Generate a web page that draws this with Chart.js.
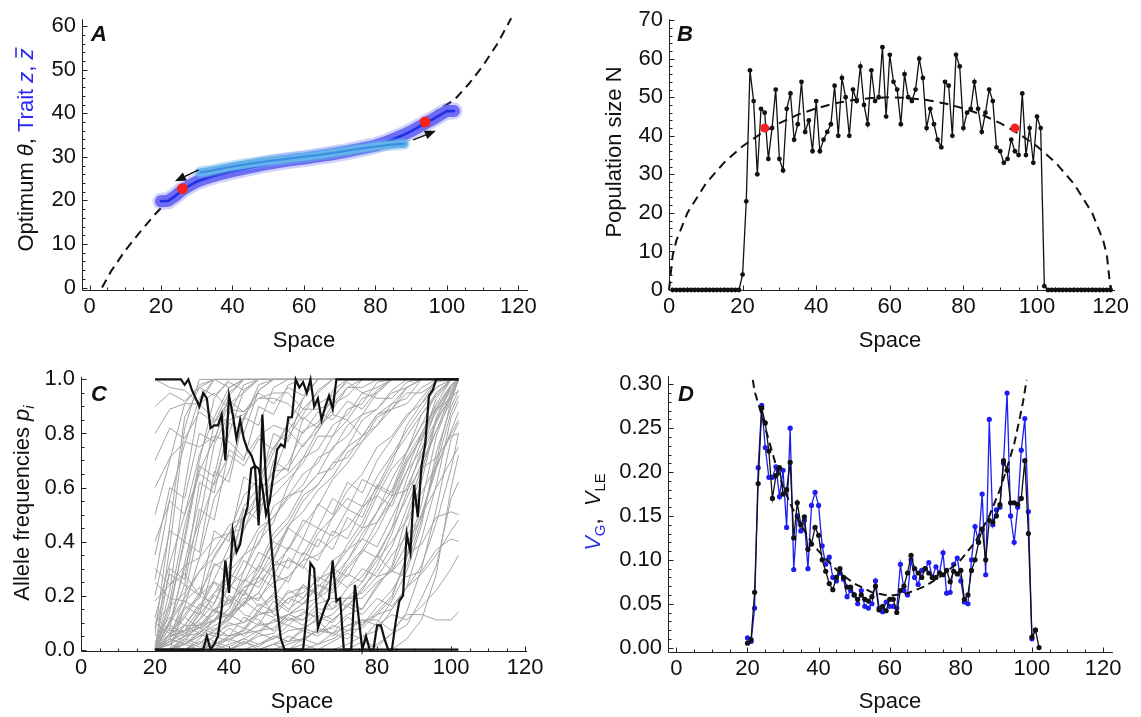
<!DOCTYPE html>
<html>
<head>
<meta charset="utf-8">
<script src="https://cdn.jsdelivr.net/npm/chart.js@4.4.1/dist/chart.umd.min.js"></script>
<style>
  html, body { margin: 0; padding: 0; background: #fff; }
  #wrap { position: relative; width: 1141px; height: 717px; overflow: hidden; }
  #wrap canvas { position: absolute; left: 0; top: 0; }
</style>
</head>
<body>
<div id="wrap">
  <canvas id="chartA" width="1141" height="717"></canvas>
  <canvas id="chartB" width="1141" height="717"></canvas>
  <canvas id="chartC" width="1141" height="717"></canvas>
  <canvas id="chartD" width="1141" height="717"></canvas>
</div>
<script>
// ---- Panel A: optimum and trait clines ----
const thetaX = [3.5, 6, 10, 14, 18, 22, 26, 30, 40, 50, 60, 70, 80, 86, 92, 98, 102, 106, 110, 114, 118];
const thetaY = [0, 3.7, 8.5, 12.6, 16.5, 20, 22.6, 24.5, 27.2, 28.8, 30, 31.3, 33.3, 35, 37.6, 41, 43, 46.6, 50.8, 55.8, 61.8];
const traitX = [20, 22, 24, 26, 28, 30, 32, 34, 36, 38, 40, 44, 48, 52, 56, 60, 64, 68, 72, 76, 80, 83, 86, 88, 90, 92, 94, 96, 98, 100, 102];
const traitMean = [19.8, 19.9, 21.0, 22.4, 23.4, 24.3, 24.9, 25.4, 25.9, 26.3, 26.7, 27.4, 28.1, 28.7, 29.2, 29.6, 30.1, 30.6, 31.2, 31.9, 32.6, 33.4, 34.4, 35.1, 35.9, 36.8, 37.7, 38.6, 39.6, 40.5, 40.5];
const earlyX = [31, 34, 37, 40, 44, 48, 52, 56, 60, 64, 68, 72, 76, 80, 84, 88];
const earlyMean = [26.4, 26.8, 27.3, 27.8, 28.3, 28.8, 29.2, 29.6, 30.0, 30.4, 30.9, 31.4, 31.9, 32.4, 32.8, 33.0];
const redAX = [26, 93.9];
const redAY = [22.7, 38];
const arrowLeftX = [30.5, 24.4];
const arrowLeftY = [27.0, 24.6];
const arrowRightX = [90.6, 96.4];
const arrowRightY = [33.9, 35.8];

// ---- Panel B: population size ----
const popN = [
  0, 0, 0, 0, 0, 0, 0, 0, 0, 0, 0, 0, 0, 0, 0, 0, 0, 0, 0,
  4, 23, 57, 49, 30, 47, 46, 34, 42, 52,
  34, 31, 47, 51, 39, 43, 54, 41, 44, 36,
  49, 36, 39, 41, 43, 53, 40, 55, 50, 40,
  52, 49, 58, 48, 43, 57, 49, 50, 63, 45,
  61, 54, 52, 43, 56, 50, 49, 52, 60, 55,
  42, 47, 43, 39, 37, 54, 53, 40, 61, 58,
  42, 46, 47, 54, 47, 41, 46, 52, 49, 37,
  36, 33, 34, 39, 36, 35, 51, 35, 42, 33,
  45, 42, 1,
  0, 0, 0, 0, 0, 0, 0, 0, 0, 0, 0, 0, 0, 0, 0, 0, 0, 0
];
const popX = popN.map((_, i) => i + 1);
const capX = [0, 1, 2, 5, 10, 15, 20, 25, 30, 35, 40, 45, 50, 55, 60, 65, 70, 75, 80, 85, 90, 95, 100, 105, 110, 115, 118, 119, 120];
const capN = [0, 9, 12.8, 20, 27.6, 33.1, 37.3, 40.6, 43.3, 45.5, 47.1, 48.4, 49.3, 49.8, 50, 49.8, 49.3, 48.4, 47.1, 45.5, 43.3, 40.6, 37.3, 33.1, 27.6, 20, 12.8, 9, 0];
const redBX = [26, 94];
const redBY = [42, 42];

// ---- Panel C: allele frequencies (percent) ----
const clineX = [20, 24, 28, 32, 36, 40, 44, 48, 52, 56, 60, 64, 68, 72, 76, 80, 84, 88, 92, 96, 100, 102];
const grayClines = [
  [0,38,82,100,100,100,100,100,100,100,100,100,100,100,100,100,100,100,100,100,100,100],
  [0,22,60,91,100,100,100,100,100,100,100,100,100,100,100,100,100,100,100,100,100,100],
  [6,46,86,97,100,100,100,100,100,100,100,100,100,100,100,100,100,100,100,100,100,100],
  [0,14,42,70,93,100,100,100,100,100,100,100,100,100,100,100,100,100,100,100,100,100],
  [26,56,76,93,100,97,100,100,100,100,100,100,100,100,100,100,100,100,100,100,100,100],
  [0,8,32,56,84,95,100,100,100,100,100,100,100,100,100,100,100,100,100,100,100,100],
  [50,70,91,98,100,100,100,100,100,100,100,100,100,100,100,100,100,100,100,100,100,100],
  [0,4,20,46,62,80,96,100,100,100,100,100,100,100,100,100,100,100,100,100,100,100],
  [12,32,50,72,86,97,100,100,100,100,100,100,100,100,100,100,100,100,100,100,100,100],
  [0,0,16,34,56,66,86,96,100,100,100,100,100,100,100,100,100,100,100,100,100,100],
  [0,18,46,66,78,91,95,100,100,100,100,100,100,100,100,100,100,100,100,100,100,100],
  [3,10,30,48,76,87,98,100,100,100,100,100,100,100,100,100,100,100,100,100,100,100],
  [0,2,9,16,26,38,53,60,73,84,93,100,100,100,100,100,100,100,100,100,100,100],
  [0,0,5,11,17,31,44,59,65,79,87,96,100,100,100,100,100,100,100,100,100,100],
  [0,6,13,21,31,34,49,54,63,69,81,84,93,100,100,100,100,100,100,100,100,100],
  [0,0,0,4,11,15,29,40,47,61,71,81,89,97,100,100,100,100,100,100,100,100],
  [10,16,21,29,37,46,49,58,66,67,76,81,91,94,100,100,100,100,100,100,100,100],
  [0,3,7,11,21,25,35,39,53,57,65,69,79,85,93,95,100,100,100,100,100,100],
  [0,0,4,9,13,23,29,43,49,56,61,71,74,83,87,95,100,100,100,100,100,100],
  [0,5,15,19,35,43,57,63,75,81,89,95,100,100,100,100,100,100,100,100,100,100],
  [0,0,2,6,11,13,23,27,37,45,55,61,69,75,85,89,96,100,100,100,100,100],
  [0,0,0,0,5,13,17,27,34,46,51,59,64,73,77,86,89,97,100,100,100,100],
  [18,24,31,34,41,43,49,54,61,65,71,74,83,87,95,97,100,100,100,100,100,100],
  [0,11,19,29,34,43,45,53,57,63,69,79,79,89,91,99,100,100,100,100,100,100],
  [0,0,2,5,9,11,17,21,31,37,46,53,63,69,77,83,91,93,100,100,100,100],
  [0,0,0,0,0,2,4,7,8,13,17,23,29,39,47,59,69,83,91,100,100,100],
  [0,0,0,0,2,4,6,7,11,13,17,19,27,33,43,51,63,73,87,94,100,100],
  [0,0,0,0,0,0,0,2,4,7,8,11,13,19,25,35,45,63,77,93,100,100],
  [0,0,0,0,0,0,0,0,0,2,4,7,8,13,15,23,31,49,65,86,98,100],
  [0,0,2,5,6,9,10,13,14,19,21,26,29,37,41,51,59,73,83,95,100,100],
  [0,0,0,0,0,0,0,0,0,0,0,2,4,7,8,13,19,35,54,79,94,100],
  [0,3,6,8,11,13,19,19,25,27,33,35,41,45,53,57,67,73,83,89,97,100],
  [0,0,0,0,0,0,2,5,6,11,13,19,23,31,37,47,55,69,79,89,93,96],
  [0,0,0,0,0,0,0,0,0,0,0,0,0,2,5,7,15,23,41,61,86,92],
  [0,0,0,0,0,0,0,0,0,0,0,0,0,0,0,2,6,9,19,31,56,62],
  [0,0,0,0,2,5,6,9,10,13,11,15,15,19,19,25,29,39,49,67,81,88],
  [0,0,0,0,0,0,0,0,2,3,4,7,6,9,10,13,15,23,31,47,67,80],
  [25,19,18,23,14,13,17,21,13,11,11,17,19,19,21,27,29,35,39,49,51,50],
  [0,6,9,9,11,19,13,11,7,13,15,11,5,9,11,11,7,13,13,11,11,14],
  [0,2,5,8,6,5,7,13,15,21,23,21,15,23,27,35,29,27,29,37,41,40],
  [12,7,7,9,15,17,23,25,31,33,31,25,33,37,45,47,57,59,67,71,79,80],
  [100,97,96,91,95,89,88,93,93,91,85,91,94,99,95,93,93,99,100,100,100,100],
  [80,89,91,91,85,85,87,93,95,95,89,89,91,97,97,100,100,100,100,100,100,100],
  [60,71,77,75,79,77,71,79,83,81,75,83,87,85,79,87,89,95,95,99,100,100],
  [0,2,5,6,11,15,25,31,43,49,59,65,75,79,87,89,95,97,100,100,100,100],
  [0,0,0,2,7,11,21,29,41,47,57,61,69,71,79,83,89,91,97,100,100,100],
  [0,5,7,15,21,29,35,45,49,57,59,65,67,75,79,87,91,97,100,100,100,100],
  [0,0,0,0,0,5,7,15,19,27,33,43,49,59,65,75,79,87,91,97,100,100],
  [0,0,0,0,0,0,3,0,2,5,3,8,6,12,9,16,22,31,48,70,92,100],
  [0,2,0,3,1,4,2,6,4,9,7,12,10,17,15,24,30,44,62,85,97,100],
  [0,0,0,0,0,0,0,0,0,0,2,0,3,6,4,10,18,29,46,73,90,96],
  [0,0,0,0,0,0,0,0,0,0,0,0,0,0,3,1,6,14,30,52,78,84],
  [0,0,0,0,0,0,0,0,0,0,0,0,0,0,0,0,0,4,11,28,60,72],
  [0,0,3,1,5,3,8,6,11,9,14,12,18,16,23,29,38,52,67,81,95,100],
  [0,4,2,7,5,10,8,14,12,19,17,24,22,30,36,44,55,66,80,91,100,100],
  [0,0,0,0,2,0,3,1,5,3,8,6,11,16,22,31,43,58,74,89,98,100],
  [0,0,0,0,0,0,0,0,2,0,4,2,6,4,9,14,20,34,50,68,88,94],
  [0,8,5,14,10,20,16,27,23,34,30,41,37,49,45,57,53,66,74,85,93,100],
  [0,3,9,6,15,12,21,18,28,25,36,33,44,41,52,60,57,70,78,88,96,100],
  [0,6,3,10,7,13,10,17,14,22,19,27,24,33,41,38,49,60,72,84,95,100],
  [5,12,9,17,14,24,20,31,27,38,35,45,42,52,49,61,58,71,80,90,98,100],
  [0,0,4,2,8,5,12,9,18,14,24,20,30,27,37,34,45,56,69,81,92,100],
  [0,10,18,15,25,22,33,29,40,37,48,45,56,52,63,60,71,79,87,95,100,100],
  [0,4,12,20,17,28,25,36,33,45,41,54,50,62,58,70,78,86,93,100,100,100],
  [2,9,6,13,20,17,26,23,33,30,41,38,49,56,53,64,72,81,89,97,100,100],
  [0,30,26,62,58,84,80,96,100,100,100,100,100,100,100,100,100,100,100,100,100,100],
  [0,16,40,36,66,62,86,83,97,100,100,100,100,100,100,100,100,100,100,100,100,100],
  [8,28,24,52,48,74,70,90,87,98,100,100,100,100,100,100,100,100,100,100,100,100],
  [0,10,24,20,44,40,64,60,80,77,93,100,100,100,100,100,100,100,100,100,100,100],
  [20,44,40,68,64,88,85,98,100,100,100,100,100,100,100,100,100,100,100,100,100,100],
  [0,6,16,13,32,28,52,48,70,66,86,82,96,100,100,100,100,100,100,100,100,100],
  [35,60,56,80,77,94,100,100,100,100,100,100,100,100,100,100,100,100,100,100,100,100],
  [90,95,92,97,94,99,96,100,100,100,100,100,100,100,100,100,100,100,100,100,100,100],
  [70,82,78,88,84,92,88,95,91,97,94,100,100,100,100,100,100,100,100,100,100,100],
  [40,55,50,65,61,72,68,78,74,84,80,88,85,92,89,96,100,100,100,100,100,100],
  [10,6,12,8,15,11,18,14,21,17,24,20,27,23,30,27,35,42,50,60,70,75],
  [30,24,28,20,25,18,22,16,20,15,19,24,21,28,25,33,40,48,58,68,80,85],
  [0,4,2,6,3,8,5,10,7,12,9,14,11,16,13,19,16,23,28,35,44,48],
  [0,0,2,0,3,1,4,2,5,3,7,5,9,7,11,9,13,11,16,22,30,35]
];
const lociX = Array.from({length: 83}, (_, i) => 20 + i);
const locusA = [
  1, 1, 1, 1, 1, 1, 1, 1,
  .98, 1, .96, .93, .90, .95, .93, .82, .83, .83, .87, .70,
  .94, .87, .78, .85, .78, .74, .72, .68, .46, .87,
  .62, .45, .30, .15, .04, 0, 0, 0, 0, 0,
  0, .13, .32, .30, .08, .12, .16, .19, .33, .18,
  .19, 0, 0, 0, .24, .12, 0, .05, 0, 0,
  .09, .09, .04, 0, 0, .10, .18, .20, .43, .36,
  .61, .49, .68, .76, .94, .96, 1, 1, 1, 1,
  1, 1, 1
];
const locusB = [
  0, 0, 0, 0, 0, 0, 0, 0, 0, 0,
  0, 0, 0, 0, .05, 0, .02, .05, .15, .33,
  .21, .44, .36, .39, .48, .53, .67, .68, .67, .60,
  .50, .55, .65, .74, .76, .75, .86, .86, 1, .97,
  .99, .95, 1, .90, .93, .85, .90, .94, .89, 1,
  1, 1, 1, 1, 1, 1, 1, 1, 1, 1,
  1, 1, 1, 1, 1, 1, 1, 1, 1, 1,
  1, 1, 1, 1, 1, 1, 1, 1, 1, 1,
  1, 1, 1
];
const lostX = [20, 102];
const lostY = [0, 0];

// ---- Panel D: genetic variance ----
const varX = Array.from({length: 83}, (_, i) => 20 + i);
const vLE = [
  .005, .009, .063, .187, .273, .256, .224, .170, .196, .205,
  .175, .180, .211, .125, .165, .140, .149, .112, .118, .137,
  .128, .100, .087, .073, .066, .080, .090, .080, .069, .069,
  .060, .055, .060, .055, .053, .058, .070, .043, .047, .042,
  .055, .055, .040, .065, .070, .085, .105, .090, .085, .080,
  .090, .085, .080, .080, .085, .083, .088, .075, .087, .084,
  .088, .055, .060, .088, .100, .120, .135, .100, .145, .143,
  .150, .163, .213, .202, .165, .165, .163, .170, .213, .130,
  .012, .020, .000
];
const vG = [
  .011, .007, .045, .205, .276, .228, .194, .194, .206, .172,
  .202, .137, .250, .089, .150, .133, .145, .090, .162, .177,
  .162, .116, .095, .103, .080, .076, .085, .078, .058, .065,
  .060, .050, .065, .047, .045, .050, .076, .045, .041, .052,
  .047, .047, .045, .095, .065, .060, .100, .080, .072, .088,
  .090, .097, .080, .092, .085, .108, .062, .063, .095, .102,
  .076, .052, .050, .100, .138, .120, .175, .083, .260, .140,
  .157, .160, .210, .290, .150, .120, .160, .225, .261, .155,
  .010, .020
];
const vTheoryX = [21.5, 22, 24, 26, 28, 30, 32, 35, 38, 40, 43, 46, 50, 55, 60, 65, 70, 75, 80, 84, 88, 91, 93, 95, 96.5, 97.5, 98.5];
const vTheory = [.305, .292, .265, .236, .208, .184, .164, .140, .120, .110, .097, .085, .073, .063, .059, .062, .070, .083, .100, .120, .150, .180, .205, .232, .260, .280, .305];

// ---- helpers ----
const FONT = '"Liberation Sans", Arial, Helvetica, sans-serif';
const INK = '#111';
const BLUE = '#2a2af2';
Chart.defaults.font.family = FONT;
Chart.defaults.font.size = 22;
Chart.defaults.color = INK;

const xy = (xs, ys) => xs.map((x, i) => ({x, y: ys[i]}));

function line(data, color, width, extra) {
  return Object.assign({
    data, borderColor: color, backgroundColor: color, borderWidth: width,
    showLine: true, pointRadius: 0, tension: 0, fill: false, clip: false
  }, extra || {});
}

function dots(data, color, r) {
  return {data, showLine: false, pointRadius: r, pointBackgroundColor: color,
          pointBorderWidth: 0, backgroundColor: color, clip: false};
}

// y axes get a fixed box width, x axes a fixed box height, so the plot area
// lands where the layout padding says
const Y_BOX = 80, X_BOX = 40;

function axis(a, dir) {
  return {
    type: 'linear', min: a.min, max: a.max,
    grid: {display: false, drawTicks: false},
    border: {display: false},
    ticks: {
      padding: dir === 'x' ? 4 : 6, autoSkip: false, maxRotation: 0, minRotation: 0,
      color: INK, font: {family: FONT, size: 22},
      callback: v => a.fmt ? a.fmt(v) : String(v)
    },
    afterBuildTicks: s => { s.ticks = a.major.map(value => ({value})); },
    afterFit: s => { if (dir === 'x') s.height = X_BOX; else s.width = Y_BOX; }
  };
}

function drawRotated(ctx, cx, cy, segs) {
  ctx.save();
  ctx.translate(cx, cy);
  ctx.rotate(-Math.PI / 2);
  ctx.textAlign = 'left';
  ctx.textBaseline = 'alphabetic';
  let total = 0;
  segs.forEach(s => {
    s.font = (s.it ? 'italic ' : '') + (s.sub ? 15 : 22) + 'px ' + FONT;
    ctx.font = s.font;
    s.w = ctx.measureText(s.t).width;
    total += s.w;
  });
  let x = -total / 2;
  segs.forEach(s => {
    ctx.font = s.font;
    ctx.fillStyle = s.c || INK;
    ctx.fillText(s.t, x, 8 + (s.sub ? 5 : 0));
    if (s.bar) {
      ctx.strokeStyle = s.c || INK;
      ctx.lineWidth = 1.6;
      ctx.beginPath();
      ctx.moveTo(x + 2, 8 - 17);
      ctx.lineTo(x + s.w + 1, 8 - 17);
      ctx.stroke();
    }
    x += s.w;
  });
  ctx.restore();
}

function isMajor(v, major) {
  return major.some(m => Math.abs(m - v) < 1e-9);
}

function frame(cfg) {
  return {
    id: 'frame' + cfg.letter,
    beforeDatasetsDraw(chart) {
      const {ctx, chartArea: a, scales: {x, y}} = chart;
      ctx.save();
      ctx.strokeStyle = '#222';
      ctx.lineWidth = 1;
      ctx.beginPath();
      const bx = Math.round(a.left) + 0.5, by = Math.round(a.bottom) + 0.5;
      ctx.moveTo(bx, a.top);
      ctx.lineTo(bx, by);
      ctx.lineTo(a.right, by);
      for (let v = cfg.x.minorFrom; v <= cfg.x.minorTo + 1e-9; v += cfg.x.minor) {
        const p = Math.round(x.getPixelForValue(v)) + 0.5;
        ctx.moveTo(p, by);
        ctx.lineTo(p, by - (isMajor(+v.toFixed(6), cfg.x.major) ? 5 : 3));
      }
      for (let v = cfg.y.minorFrom; v <= cfg.y.minorTo + 1e-9; v += cfg.y.minor) {
        const p = Math.round(y.getPixelForValue(v)) + 0.5;
        ctx.moveTo(bx, p);
        ctx.lineTo(bx + (isMajor(+v.toFixed(6), cfg.y.major) ? 5 : 3), p);
      }
      ctx.stroke();
      ctx.restore();
    },
    afterDatasetsDraw(chart) {
      const ctx = chart.ctx;
      chart.data.datasets.forEach((ds, i) => {
        if (!ds.arrow) return;
        const pts = chart.getDatasetMeta(i).data;
        const p0 = pts[pts.length - 2], p1 = pts[pts.length - 1];
        const ang = Math.atan2(p1.y - p0.y, p1.x - p0.x);
        ctx.save();
        ctx.translate(p1.x, p1.y);
        ctx.rotate(ang);
        ctx.fillStyle = ds.borderColor;
        ctx.beginPath();
        ctx.moveTo(2, 0);
        ctx.lineTo(-9, -4.5);
        ctx.lineTo(-9, 4.5);
        ctx.closePath();
        ctx.fill();
        ctx.restore();
      });
    },
    afterDraw(chart) {
      const ctx = chart.ctx;
      ctx.save();
      ctx.fillStyle = INK;
      ctx.textAlign = 'center';
      ctx.textBaseline = 'middle';
      ctx.font = '22px ' + FONT;
      ctx.fillText('Space', cfg.xTitle[0], cfg.xTitle[1]);
      ctx.font = 'italic bold 22px ' + FONT;
      ctx.fillText(cfg.letter, cfg.letterPos[0], cfg.letterPos[1]);
      ctx.restore();
      drawRotated(ctx, cfg.yTitle[0], cfg.yTitle[1], cfg.ySegs);
    }
  };
}

// area = [left, top, right, bottom] of the plot rectangle in page pixels
function makeChart(id, cfg) {
  const datasets = cfg.datasets;
  datasets.forEach((d, i) => { d.order = datasets.length - i; });
  const [l, t, r, b] = cfg.area;
  return new Chart(document.getElementById(id), {
    type: 'scatter',
    data: {datasets},
    options: {
      responsive: false, animation: false, devicePixelRatio: 1, events: [],
      layout: {padding: {left: l - Y_BOX, top: t, right: 1141 - r, bottom: 717 - b - X_BOX}},
      plugins: {legend: {display: false}, tooltip: {enabled: false}},
      scales: {x: axis(cfg.x, 'x'), y: axis(cfg.y, 'y')}
    },
    plugins: [frame(cfg)]
  });
}

const spaceTicks = [0, 20, 40, 60, 80, 100, 120];
const round = {borderCapStyle: 'round', borderJoinStyle: 'round'};

// Panel A
makeChart('chartA', {
  letter: 'A', letterPos: [99, 35], xTitle: [304, 341], yTitle: [25, 150],
  ySegs: [{t: 'Optimum '}, {t: 'θ', it: true}, {t: ', '}, {t: 'Trait ', c: BLUE},
          {t: 'z', it: true, c: BLUE}, {t: ', ', c: BLUE}, {t: 'z', it: true, c: BLUE, bar: true}],
  area: [82, 18, 528, 290],
  x: {min: -2.1, max: 122.7, major: spaceTicks, minor: 5, minorFrom: 0, minorTo: 120},
  y: {min: -0.57, max: 61.6, major: [0, 10, 20, 30, 40, 50, 60], minor: 2, minorFrom: 0, minorTo: 60},
  datasets: [
    line(xy(thetaX, thetaY), '#111', 2, {borderDash: [9, 6]}),
    line(xy(traitX, traitMean), 'rgba(104,104,246,0.3)', 17, round),
    line(xy(traitX, traitMean), '#6c6cf4', 12, round),
    line(xy(traitX, traitMean), '#1f2fe8', 2.6, round),
    line(xy(earlyX, earlyMean), 'rgba(96,176,234,0.4)', 12, round),
    line(xy(earlyX, earlyMean), '#64b2ea', 8, round),
    line(xy(earlyX, earlyMean), '#3a8ce2', 2, round),
    line(xy(arrowLeftX, arrowLeftY), '#111', 1.5, {arrow: true}),
    line(xy(arrowRightX, arrowRightY), '#111', 1.5, {arrow: true}),
    dots(xy(redAX, redAY), '#f42222', 5.5)
  ]
});

// Panel B
makeChart('chartB', {
  letter: 'B', letterPos: [685, 35], xTitle: [890, 341], yTitle: [613, 152],
  ySegs: [{t: 'Population size N'}],
  area: [669, 16, 1115, 290],
  x: {min: 0, max: 121.2, major: spaceTicks, minor: 5, minorFrom: 0, minorTo: 120},
  y: {min: 0, max: 70.25, major: [0, 10, 20, 30, 40, 50, 60, 70], minor: 2, minorFrom: 0, minorTo: 70},
  datasets: [
    line(xy(popX, popN), '#111', 1.3, {pointRadius: 2.4, pointBackgroundColor: '#111', pointBorderWidth: 0}),
    line(xy(capX, capN), '#111', 2, {borderDash: [9, 6]}),
    dots(xy(redBX, redBY), '#f42222', 4.5)
  ]
});

// Panel C
const pct = v => v / 100;
makeChart('chartC', {
  letter: 'C', letterPos: [99, 395], xTitle: [302, 702], yTitle: [21, 503],
  ySegs: [{t: 'Allele frequencies '}, {t: 'p', it: true}, {t: 'i', it: true, sub: true}],
  area: [81, 377, 527, 651],
  x: {min: 0, max: 120.5, major: spaceTicks, minor: 5, minorFrom: 0, minorTo: 120},
  y: {min: -0.005, max: 1.009, major: [0, 0.2, 0.4, 0.6, 0.8, 1.0], minor: 0.05, minorFrom: 0, minorTo: 1,
      fmt: v => v.toFixed(1)},
  datasets: [
    ...grayClines.map(ys => line(xy(clineX, ys.map(pct)), '#a4a4a4', 1)),
    line(xy(lostX, lostY), '#111', 2.4),
    line(xy(lociX, locusB), '#111', 2.2),
    line(xy(lociX, locusA), '#111', 2.2)
  ]
});

// Panel D
makeChart('chartD', {
  letter: 'D', letterPos: [686, 395], xTitle: [890, 702], yTitle: [592, 512],
  ySegs: [{t: 'V', it: true, c: BLUE}, {t: 'G', sub: true, c: BLUE}, {t: ',  '},
          {t: 'V', it: true}, {t: 'LE', sub: true}],
  area: [668, 376, 1113, 652],
  x: {min: -2.36, max: 122.8, major: spaceTicks, minor: 5, minorFrom: 0, minorTo: 120},
  y: {min: -0.005, max: 0.3095, major: [0, 0.05, 0.10, 0.15, 0.20, 0.25, 0.30], minor: 0.01, minorFrom: 0, minorTo: 0.3,
      fmt: v => v.toFixed(2)},
  datasets: [
    line(xy(varX.slice(0, vG.length), vG), '#1e1ef0', 1.3, {pointRadius: 2.6, pointBackgroundColor: '#1e1ef0', pointBorderWidth: 0}),
    line(xy(varX, vLE), '#111', 1.3, {pointRadius: 2.6, pointBackgroundColor: '#111', pointBorderWidth: 0}),
    line(xy(vTheoryX, vTheory), '#111', 2, {borderDash: [8, 5]})
  ]
});
</script>
</body>
</html>
